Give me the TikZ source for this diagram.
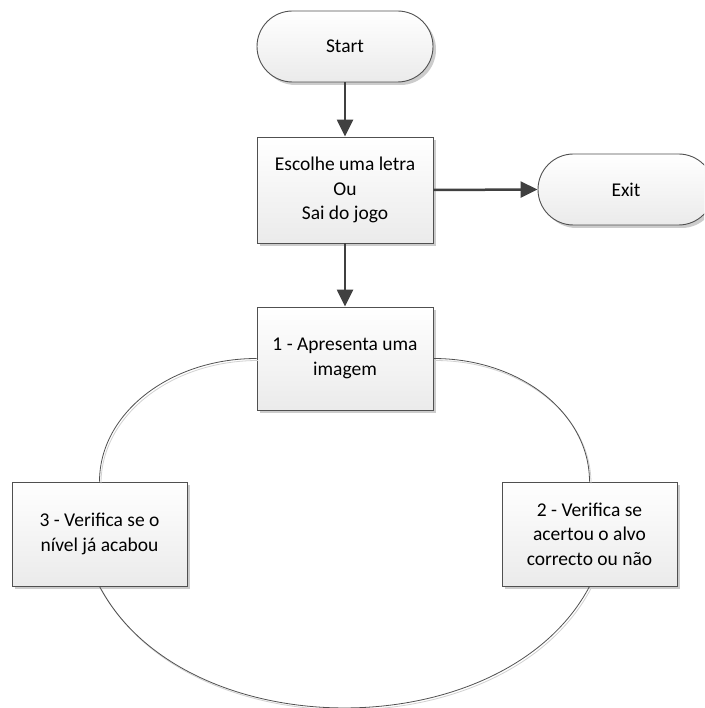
\documentclass[tikz,border=0pt]{standalone}
\usepackage{fontspec}
\setmainfont{Carlito}
\usetikzlibrary{arrows.meta,shadows}
\definecolor{edge}{HTML}{404040}
\definecolor{frame}{HTML}{505050}
\tikzset{
  base/.style={draw=frame, line width=0.9pt, top color=white, bottom color=black!8,
    align=center, font=\fontsize{19.5}{24.5}\selectfont, text=black, inner sep=0pt,
    drop shadow={shadow xshift=3pt, shadow yshift=-3pt, opacity=1, fill=black!20}},
  stepbox/.style={base, minimum width=176pt, minimum height=105pt},
  terminal/.style={base, minimum width=176pt, minimum height=71pt, rounded corners=35.5pt},
  flow/.style={draw=edge, line width=2.5pt, -{Triangle[length=17pt,width=16pt]}},
  loopline/.style={draw=frame, line width=0.8pt,
    preaction={draw=black!18, line width=0.8pt, transform canvas={shift={(1.5pt,-2pt)}}}}
}
\begin{document}
\begin{tikzpicture}[x=1pt,y=-1pt]
  \clip (0,0) rectangle (704,708);
  \fill[white] (0,0) rectangle (704,708);

  % main flow
  \node[terminal] (start) at (345,46.5) {Start};
  \node[stepbox, minimum height=106pt] (choose) at (345,190) {Escolhe uma letra\\Ou\\Sai do jogo};
  \node[terminal] (exit) at (626,189.5) {Exit};
  \node[stepbox, minimum height=103pt] (show) at (345,358.5) {1 - Apresenta uma\\imagem};
  \node[stepbox, minimum width=175pt, minimum height=104pt] (level) at (99.5,534) {3 - Verifica se o\\nível já acabou};
  \node[stepbox, minimum width=175pt, minimum height=104pt] (check) at (589.5,534) {2 - Verifica se\\acertou o alvo\\correcto ou não};

  \draw[flow] (start) -- (choose);
  \draw[flow] (choose.east) -- (exit.west);
  \draw[flow] (choose) -- (show);

  % game loop
  \draw[loopline] (show.west) .. controls +(-87,0) and +(0,-68) .. (level.north);
  \draw[loopline] (show.east) .. controls +(87,0) and +(0,-68) .. (check.north);
  \draw[loopline] (level.south) .. controls +(86,162) and +(-86,162) .. (check.south);
\end{tikzpicture}
\end{document}
